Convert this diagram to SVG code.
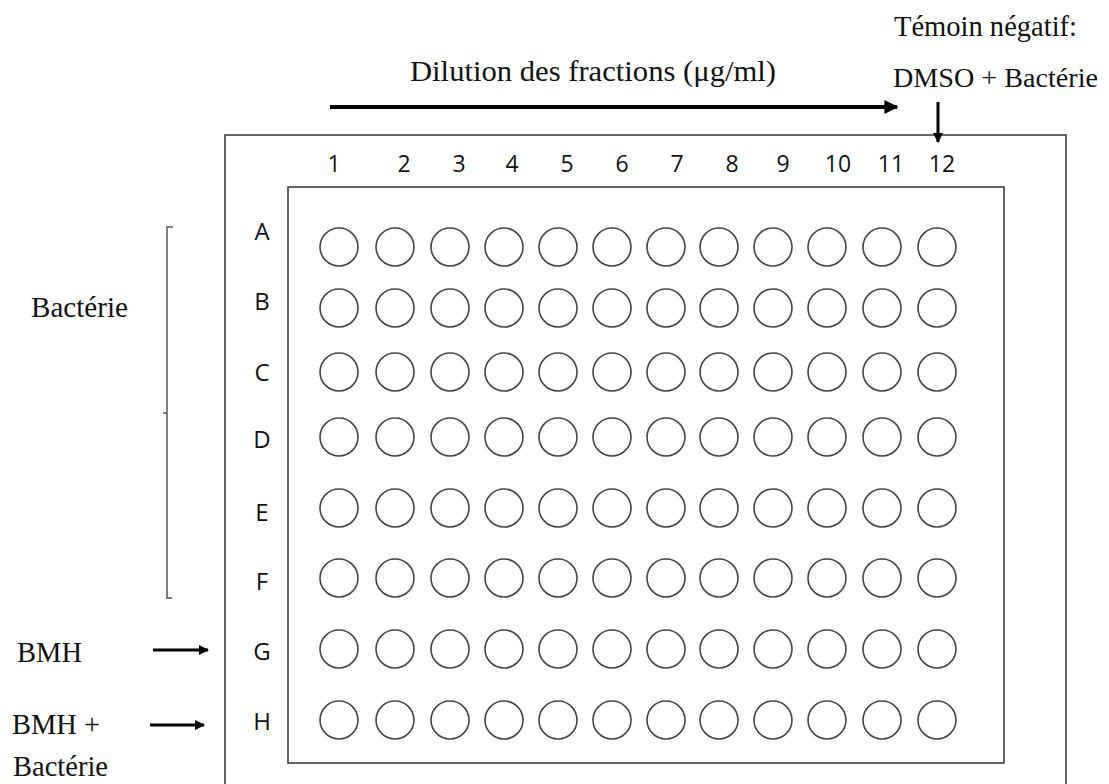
<svg xmlns="http://www.w3.org/2000/svg" width="1109" height="784" viewBox="0 0 1109 784">
<style>
.serif{font-family:"Liberation Serif","Times New Roman",serif;font-size:30px;fill:#111}
.sans{font-family:"Open Sans","Liberation Sans",sans-serif;fill:#111}
.num{font-size:23px;text-anchor:middle}
.row{font-size:24px;text-anchor:middle}
.frame{fill:none;stroke:#333;stroke-width:1.5}
.well{fill:none;stroke:#444;stroke-width:1.6}
.arr{stroke:#000;fill:none}
</style>
<defs>
<marker id="ah" viewBox="0 0 10 10" refX="9" refY="5" markerWidth="3.5" markerHeight="3.5" orient="auto" markerUnits="strokeWidth">
<path d="M0,0 L10,5 L0,10 z" fill="#000"/>
</marker>
</defs>
<rect width="1109" height="784" fill="#fff"/>

<g id="plate">
<rect class="frame" x="225" y="135" width="841" height="660"/>
<rect class="frame" x="288" y="187" width="716" height="576"/>
</g>

<g id="column-numbers" class="sans num">
<text x="334" y="172">1</text>
<text x="404" y="172">2</text>
<text x="459" y="172">3</text>
<text x="512" y="172">4</text>
<text x="567" y="172">5</text>
<text x="622" y="172">6</text>
<text x="677" y="172">7</text>
<text x="732" y="172">8</text>
<text x="783" y="172">9</text>
<text x="838" y="172">10</text>
<text x="891" y="172">11</text>
<text x="942" y="172">12</text>
</g>

<g id="row-letters" class="sans row">
<text x="262" y="240">A</text>
<text x="262" y="310">B</text>
<text x="262" y="381">C</text>
<text x="262" y="448">D</text>
<text x="262" y="521">E</text>
<text x="262" y="590">F</text>
<text x="262" y="660">G</text>
<text x="262" y="730">H</text>
</g>

<defs>
<g id="wellrow">
<circle class="well" cx="339" cy="0" r="19"/>
<circle class="well" cx="395" cy="0" r="19"/>
<circle class="well" cx="450" cy="0" r="19"/>
<circle class="well" cx="504" cy="0" r="19"/>
<circle class="well" cx="558" cy="0" r="19"/>
<circle class="well" cx="612" cy="0" r="19"/>
<circle class="well" cx="666" cy="0" r="19"/>
<circle class="well" cx="719" cy="0" r="19"/>
<circle class="well" cx="773" cy="0" r="19"/>
<circle class="well" cx="827" cy="0" r="19"/>
<circle class="well" cx="882" cy="0" r="19"/>
<circle class="well" cx="937" cy="0" r="19"/>
</g>
</defs>
<g id="wells">
<use href="#wellrow" y="247"/>
<use href="#wellrow" y="308"/>
<use href="#wellrow" y="372"/>
<use href="#wellrow" y="437"/>
<use href="#wellrow" y="508"/>
<use href="#wellrow" y="578"/>
<use href="#wellrow" y="649"/>
<use href="#wellrow" y="720"/>
</g>

<g id="labels" class="serif">
<text x="410" y="81" textLength="366" lengthAdjust="spacingAndGlyphs">Dilution des fractions (μg/ml)</text>
<text x="894" y="36" textLength="183" lengthAdjust="spacingAndGlyphs">Témoin négatif:</text>
<text x="893" y="87" font-size="28" textLength="205" lengthAdjust="spacingAndGlyphs">DMSO + Bactérie</text>
<text x="31" y="317" textLength="97" lengthAdjust="spacingAndGlyphs">Bactérie</text>
<text x="17" y="662" textLength="65" lengthAdjust="spacingAndGlyphs">BMH</text>
<text x="12" y="734" textLength="88" lengthAdjust="spacingAndGlyphs">BMH +</text>
<text x="13" y="776" textLength="95" lengthAdjust="spacingAndGlyphs">Bactérie</text>
</g>

<g id="connectors">
<line class="arr" x1="330" y1="107" x2="897" y2="107" stroke-width="4" marker-end="url(#ah)"/>
<line class="arr" x1="938" y1="102" x2="938" y2="142" stroke-width="3" marker-end="url(#ah)"/>
<line class="arr" x1="153" y1="650" x2="208" y2="650" stroke-width="3" marker-end="url(#ah)"/>
<line class="arr" x1="150" y1="725" x2="204" y2="725" stroke-width="3" marker-end="url(#ah)"/>
<path d="M173,227 L167,227 L167,598 L172,598 M167,413 L163,413" fill="none" stroke="#555" stroke-width="1.5"/>
</g>
</svg>
